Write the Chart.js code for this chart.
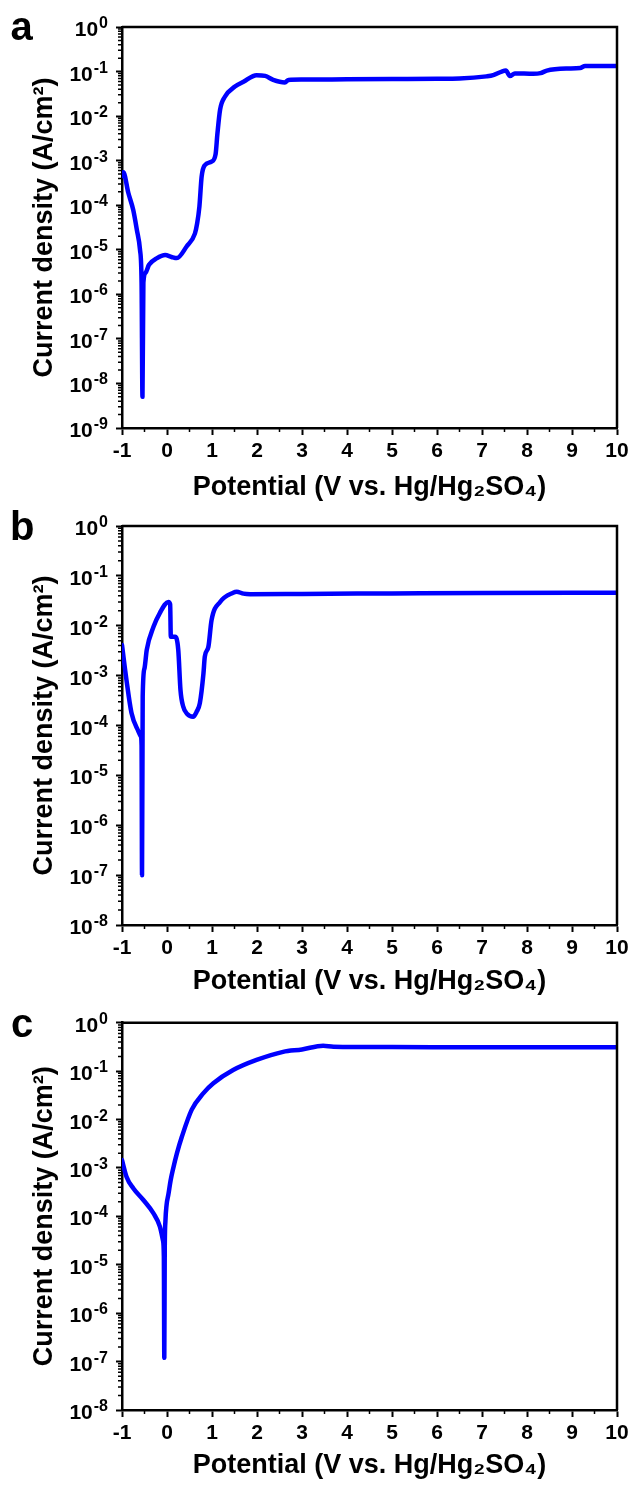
<!DOCTYPE html>
<html lang="en">
<head>
<meta charset="UTF-8">
<title>Potentiodynamic polarization</title>
<script src="https://cdn.jsdelivr.net/npm/chart.js"></script>
<style>
  html, body { margin: 0; padding: 0; background: #fff; }
  canvas { display: block; }
</style>
</head>
<body>
<canvas id="chartA" width="633" height="505"></canvas>
<canvas id="chartB" width="633" height="497"></canvas>
<canvas id="chartC" width="633" height="499"></canvas>
<script>
// panel a: potential (V vs. Hg/Hg2SO4) and current density (A/cm2)
const aPotential = [-1.00, -0.97, -0.86, -0.75, -0.67, -0.60, -0.565, -0.545, -0.525, -0.48, -0.40, -0.23, -0.04, 0.10, 0.22, 0.44, 0.62, 0.67, 0.72, 0.77, 0.84, 0.99, 1.08, 1.12, 1.18, 1.29, 1.51, 1.70, 1.99, 2.18, 2.36, 2.62, 2.70, 3.0, 4.0, 5.0, 6.0, 6.5, 7.10, 7.25, 7.44, 7.53, 7.62, 7.73, 8.14, 8.30, 8.44, 8.88, 9.18, 9.29, 10.0];
const aCurrent = [4.5e-4, 5.5e-4, 1.9e-4, 7.8e-5, 2.8e-5, 1.0e-5, 1.8e-6, 5e-9, 1.8e-6, 3.0e-6, 4.6e-6, 6.4e-6, 7.6e-6, 6.9e-6, 6.5e-6, 1.2e-5, 2.3e-5, 3.9e-5, 9.3e-5, 4.4e-4, 7.9e-4, 9.5e-4, 1.4e-3, 4.0e-3, 1.4e-2, 2.75e-2, 4.6e-2, 5.9e-2, 8.3e-2, 8.0e-2, 6.5e-2, 5.7e-2, 6.5e-2, 6.6e-2, 6.7e-2, 6.8e-2, 6.9e-2, 7.0e-2, 7.8e-2, 8.3e-2, 1.0e-1, 1.05e-1, 7.9e-2, 9.1e-2, 8.9e-2, 9.2e-2, 1.05e-1, 1.17e-1, 1.2e-1, 1.33e-1, 1.33e-1];

// panel b
const bPotential = [-1.00, -0.90, -0.79, -0.67, -0.58, -0.565, -0.555, -0.54, -0.50, -0.45, -0.30, -0.16, 0.03, 0.07, 0.085, 0.12, 0.18, 0.25, 0.30, 0.36, 0.45, 0.58, 0.66, 0.73, 0.81, 0.84, 0.92, 0.99, 1.18, 1.47, 1.55, 1.70, 1.85, 3.0, 5.0, 7.0, 10.0];
const bCurrent = [4.1e-3, 8.1e-4, 1.8e-4, 8.9e-5, 6.0e-5, 4.0e-5, 1.0e-7, 3.8e-4, 1.4e-3, 3.3e-3, 9.5e-3, 1.8e-2, 3.0e-2, 2.7e-2, 6.0e-3, 6.0e-3, 6.0e-3, 3.3e-3, 5.1e-4, 2.4e-4, 1.7e-4, 1.5e-4, 1.9e-4, 2.8e-4, 1.1e-3, 2.4e-3, 3.8e-3, 1.3e-2, 3.0e-2, 4.6e-2, 4.8e-2, 4.4e-2, 4.3e-2, 4.35e-2, 4.45e-2, 4.55e-2, 4.6e-2];

// panel c
const cPotential = [-1.00, -0.90, -0.75, -0.53, -0.30, -0.16, -0.09, -0.07, -0.06, -0.05, -0.035, -0.01, 0.03, 0.08, 0.14, 0.22, 0.33, 0.55, 0.81, 1.03, 1.47, 1.99, 2.58, 3.0, 3.47, 3.7, 5.0, 7.0, 10.0];
const cCurrent = [1.45e-3, 6.6e-4, 3.8e-4, 2.2e-4, 1.15e-4, 6.2e-5, 3.2e-5, 1.5e-5, 1.2e-7, 2.0e-5, 8.0e-5, 1.7e-4, 2.8e-4, 5.5e-4, 1.0e-3, 2.0e-3, 4.4e-3, 1.6e-2, 3.5e-2, 5.6e-2, 0.105, 0.17, 0.25, 0.28, 0.335, 0.32, 0.315, 0.31, 0.31];

// tick labels
const xTicks = [-1, 0, 1, 2, 3, 4, 5, 6, 7, 8, 9, 10];
const aYTicks = [1e-9, 1e-8, 1e-7, 1e-6, 1e-5, 1e-4, 1e-3, 1e-2, 1e-1, 1];
const bcYTicks = [1e-8, 1e-7, 1e-6, 1e-5, 1e-4, 1e-3, 1e-2, 1e-1, 1];

const FONT = "'Liberation Sans', Arial, 'DejaVu Sans', sans-serif";

Chart.defaults.font.family = FONT;
Chart.defaults.color = '#000';

// top/right frame, minor ticks, 10^n labels and the panel letter
const framePlugin = {
    id: 'frame',
    afterDraw(chart, args, opts) {
        const { ctx, chartArea: { left, right, top, bottom }, scales: { x, y } } = chart;
        ctx.save();
        ctx.strokeStyle = '#000';
        ctx.lineWidth = 2.5;
        ctx.beginPath();
        ctx.moveTo(left, top);
        ctx.lineTo(right, top);
        ctx.lineTo(right, bottom);
        ctx.stroke();

        ctx.lineWidth = 1.5;
        ctx.beginPath();
        for (let i = 0; i < xTicks.length - 1; i++) {
            const px = x.getPixelForValue((xTicks[i] + xTicks[i + 1]) / 2);
            ctx.moveTo(px, bottom);
            ctx.lineTo(px, bottom + 4);
        }
        const yv = y.ticks.map(t => t.value);
        for (let i = 0; i < yv.length - 1; i++) {
            for (let m = 2; m < 10; m++) {
                const py = y.getPixelForValue(yv[i] * m);
                ctx.moveTo(left - 4, py);
                ctx.lineTo(left, py);
            }
        }
        ctx.stroke();

        // y tick labels as 10 with a raised exponent
        ctx.fillStyle = '#000';
        ctx.textBaseline = 'alphabetic';
        ctx.textAlign = 'left';
        yv.forEach(v => {
            const py = y.getPixelForValue(v);
            const exp = String(Math.round(Math.log10(v)));
            ctx.font = 'bold 16px ' + FONT;
            const w2 = ctx.measureText(exp).width;
            ctx.font = 'bold 21px ' + FONT;
            const w1 = ctx.measureText('10').width;
            const x0 = left - 15 - w1 - w2;
            ctx.fillText('10', x0, py + 9);
            ctx.font = 'bold 16px ' + FONT;
            ctx.fillText(exp, x0 + w1 + 1, py + 1);
        });

        ctx.font = 'bold 40px ' + FONT;
        ctx.fillText(opts.letter, opts.lx, opts.ly);
        ctx.restore();
    }
};

function makePanel(id, potential, current, yTicks, box) {
    const canvas = document.getElementById(id);
    return new Chart(canvas, {
        type: 'line',
        data: {
            datasets: [{
                data: potential.map((v, i) => ({ x: v, y: current[i] })),
                borderColor: '#0000ff',
                borderWidth: 4.5,
                borderCapStyle: 'round',
                borderJoinStyle: 'round',
                pointRadius: 0,
                fill: false,
                cubicInterpolationMode: 'monotone'
            }]
        },
        options: {
            responsive: false,
            devicePixelRatio: 1,
            animation: false,
            layout: {
                padding: { top: box.top, right: 16, left: 0, bottom: canvas.height - box.bottom - box.xH }
            },
            plugins: {
                legend: { display: false },
                tooltip: { enabled: false },
                frame: { letter: box.letter, lx: box.lx, ly: box.ly }
            },
            scales: {
                x: {
                    type: 'linear',
                    min: xTicks[0],
                    max: xTicks[xTicks.length - 1],
                    afterBuildTicks: s => { s.ticks = xTicks.map(v => ({ value: v })); },
                    afterFit: s => { s.height = box.xH; },
                    ticks: {
                        autoSkip: false,
                        maxRotation: 0,
                        padding: 4,
                        font: { size: 21, weight: 'bold' },
                        color: '#000'
                    },
                    grid: {
                        drawOnChartArea: false,
                        drawTicks: true,
                        tickLength: 7,
                        tickWidth: 2,
                        tickColor: '#000'
                    },
                    border: { display: true, color: '#000', width: 2.5 },
                    title: {
                        display: true,
                        text: 'Potential (V vs. Hg/Hg\u2082SO\u2084)',
                        font: { size: 27, weight: 'bold' },
                        color: '#000',
                        padding: 0
                    }
                },
                y: {
                    type: 'logarithmic',
                    min: yTicks[0],
                    max: yTicks[yTicks.length - 1],
                    afterBuildTicks: s => { s.ticks = yTicks.map(v => ({ value: v })); },
                    afterFit: s => { s.width = 122; },
                    ticks: { display: false },
                    grid: {
                        drawOnChartArea: false,
                        drawTicks: true,
                        tickLength: 6,
                        tickWidth: 2,
                        tickColor: '#000'
                    },
                    border: { display: true, color: '#000', width: 2.5 },
                    title: {
                        display: true,
                        text: 'Current density (A/cm\u00B2)',
                        font: { size: 27, weight: 'bold' },
                        color: '#000',
                        padding: { top: 28, bottom: 0 }
                    }
                }
            }
        },
        plugins: [framePlugin]
    });
}

makePanel('chartA', aPotential, aCurrent, aYTicks, { top: 27, bottom: 428, xH: 76, letter: 'a', lx: 10.5, ly: 40 });
makePanel('chartB', bPotential, bCurrent, bcYTicks, { top: 21, bottom: 420, xH: 73, letter: 'b', lx: 10, ly: 35 });
makePanel('chartC', cPotential, cCurrent, bcYTicks, { top: 20.7, bottom: 408, xH: 71.6, letter: 'c', lx: 11, ly: 35 });
</script>
</body>
</html>
